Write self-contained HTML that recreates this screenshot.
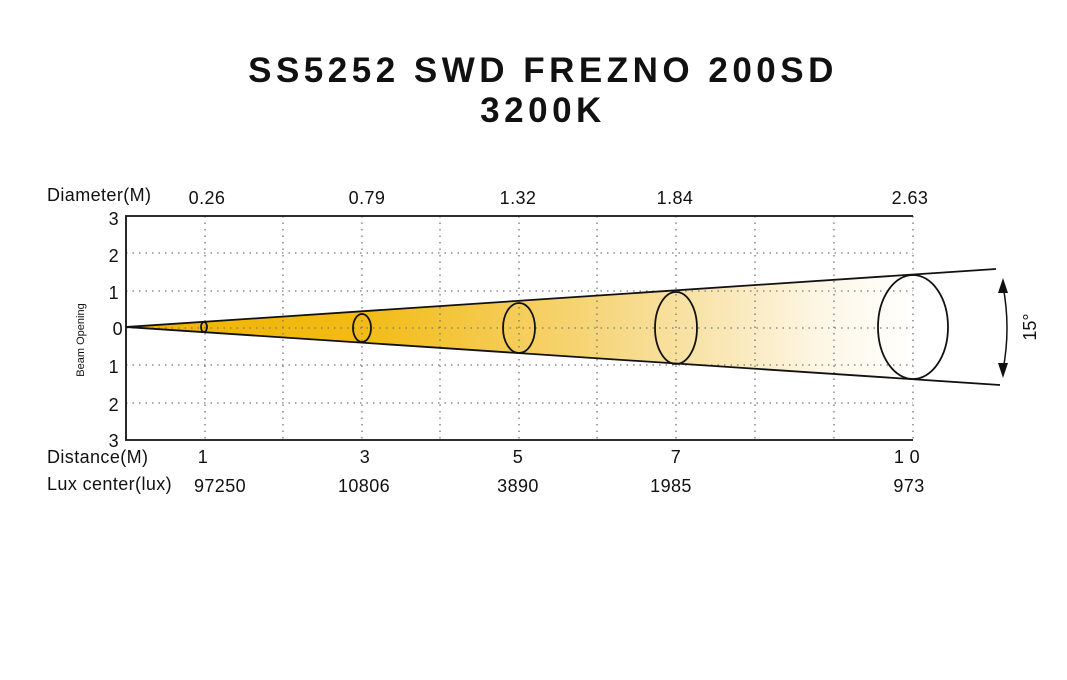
<!DOCTYPE html>
<html><head><meta charset="utf-8"><style>
html,body{margin:0;padding:0;background:#fff;width:1067px;height:680px;overflow:hidden}
svg{display:block}
text{font-family:"Liberation Sans",sans-serif;fill:#111}
</style></head><body>
<svg width="1067" height="680" viewBox="0 0 1067 680">
<defs>
<linearGradient id="g" x1="126" y1="0" x2="913" y2="0" gradientUnits="userSpaceOnUse">
<stop offset="0" stop-color="#f0b400"/>
<stop offset="0.3" stop-color="#f2bb14"/>
<stop offset="0.5" stop-color="#f5cd5a"/>
<stop offset="0.72" stop-color="#f8e2a6"/>
<stop offset="0.88" stop-color="#fdf6e4"/>
<stop offset="1" stop-color="#ffffff"/>
</linearGradient>
</defs>
<text x="543" y="82" text-anchor="middle" font-size="35" font-weight="bold" letter-spacing="4.5">SS5252 SWD FREZNO 200SD</text>
<text x="543" y="122" text-anchor="middle" font-size="35" font-weight="bold" letter-spacing="4.5">3200K</text>

<polygon points="126,327 996,269 1000,385" fill="url(#g)"/>
<g stroke="#777" stroke-width="1.3" stroke-dasharray="1.5,5">
<line x1="126" y1="253" x2="913" y2="253"/>
<line x1="126" y1="291" x2="913" y2="291"/>
<line x1="126" y1="328" x2="913" y2="328"/>
<line x1="126" y1="365" x2="913" y2="365"/>
<line x1="126" y1="403" x2="913" y2="403"/>
<line x1="205" y1="216" x2="205" y2="440"/>
<line x1="283" y1="216" x2="283" y2="440"/>
<line x1="362" y1="216" x2="362" y2="440"/>
<line x1="440" y1="216" x2="440" y2="440"/>
<line x1="519" y1="216" x2="519" y2="440"/>
<line x1="597" y1="216" x2="597" y2="440"/>
<line x1="676" y1="216" x2="676" y2="440"/>
<line x1="755" y1="216" x2="755" y2="440"/>
<line x1="834" y1="216" x2="834" y2="440"/>
<line x1="913" y1="216" x2="913" y2="440"/>
</g>
<polyline points="913,216 126,216 126,440 913,440" fill="none" stroke="#111" stroke-width="1.8"/>
<g fill="none" stroke="#111" stroke-width="1.8">
<line x1="126" y1="327" x2="996" y2="269"/>
<line x1="126" y1="327" x2="1000" y2="385"/>
<ellipse cx="204" cy="327" rx="3" ry="5"/>
<ellipse cx="362" cy="328" rx="9" ry="14"/>
<ellipse cx="519" cy="328" rx="16" ry="25"/>
<ellipse cx="676" cy="328" rx="21" ry="36"/>
<ellipse cx="913" cy="327" rx="35" ry="52"/>
<path d="M1003,286 Q1011,328 1003,370" stroke-width="1.5"/>
</g>
<polygon points="1003,278 998,293 1008,293" fill="#111"/>
<polygon points="1003,378 998,363 1008,363" fill="#111"/>
<text transform="translate(1036,327) rotate(-90)" text-anchor="middle" font-size="18">15°</text>

<g font-size="18" letter-spacing="0.4">
<text x="47" y="201">Diameter(M)</text>
<text x="207" y="204" text-anchor="middle">0.26</text>
<text x="367" y="204" text-anchor="middle">0.79</text>
<text x="518" y="204" text-anchor="middle">1.32</text>
<text x="675" y="204" text-anchor="middle">1.84</text>
<text x="910" y="204" text-anchor="middle">2.63</text>
<text x="119" y="225" text-anchor="end">3</text>
<text x="119" y="262" text-anchor="end">2</text>
<text x="119" y="299" text-anchor="end">1</text>
<text x="123" y="335" text-anchor="end">0</text>
<text x="119" y="373" text-anchor="end">1</text>
<text x="119" y="411" text-anchor="end">2</text>
<text x="119" y="447" text-anchor="end">3</text>
<text x="47" y="463">Distance(M)</text>
<text x="203" y="463" text-anchor="middle">1</text>
<text x="365" y="463" text-anchor="middle">3</text>
<text x="518" y="463" text-anchor="middle">5</text>
<text x="676" y="463" text-anchor="middle">7</text>
<text x="907" y="463" text-anchor="middle">1 0</text>
<text x="47" y="490">Lux center(lux)</text>
<text x="220" y="492" text-anchor="middle">97250</text>
<text x="364" y="492" text-anchor="middle">10806</text>
<text x="518" y="492" text-anchor="middle">3890</text>
<text x="671" y="492" text-anchor="middle">1985</text>
<text x="909" y="492" text-anchor="middle">973</text>
</g>
<text transform="translate(84,340) rotate(-90)" text-anchor="middle" font-size="11">Beam Opening</text>
</svg>
</body></html>
